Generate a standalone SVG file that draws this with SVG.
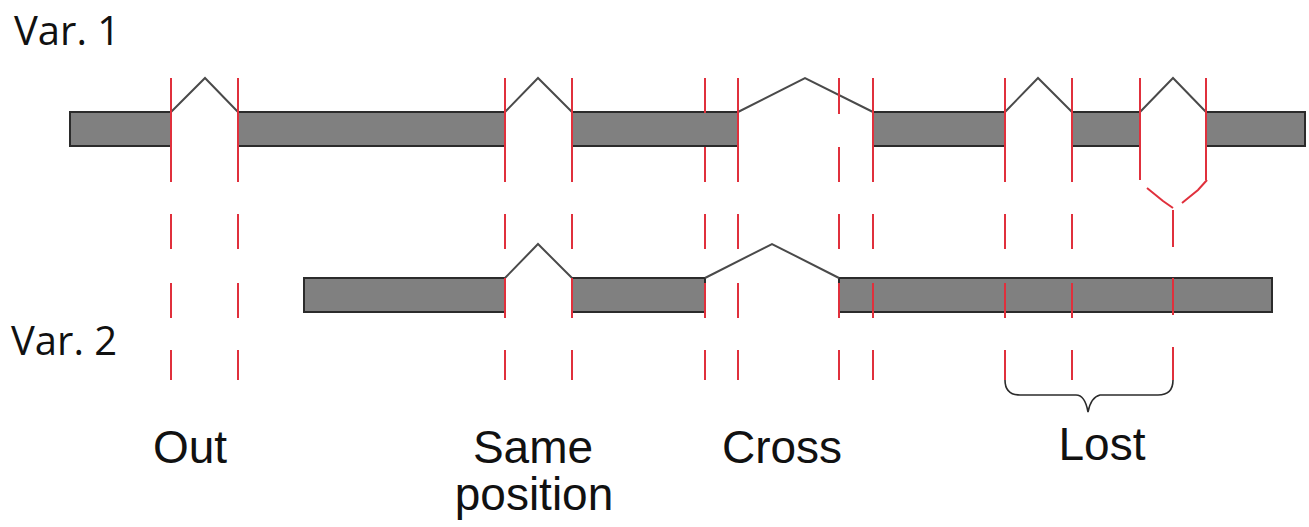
<svg xmlns="http://www.w3.org/2000/svg" width="1309" height="527" viewBox="0 0 1309 527">
  <style>
    .exon { fill: #808080; stroke: #2b2b2b; stroke-width: 2; }
    .intron { fill: none; stroke: #4a4a4a; stroke-width: 2; stroke-linejoin: miter; }
    .cut { fill: none; stroke: #e0303c; stroke-width: 2; }
    .brace { fill: none; stroke: #2b2b2b; stroke-width: 1.6; }
    .lbl { font-family: "Liberation Sans", Arial, sans-serif; font-size: 46px; fill: #111; text-anchor: middle; }
    .var { font-family: "Open Sans", "Liberation Sans", sans-serif; font-size: 40px; fill: #111; }
  </style>
  <rect width="1309" height="527" fill="#ffffff"/>

  <!-- variant 1 transcript -->
  <g id="var1">
    <rect class="exon" x="70" y="112" width="101" height="34"/>
    <rect class="exon" x="238" y="112" width="267" height="34"/>
    <rect class="exon" x="572" y="112" width="166" height="34"/>
    <rect class="exon" x="873" y="112" width="132" height="34"/>
    <rect class="exon" x="1072" y="112" width="68" height="34"/>
    <rect class="exon" x="1206" y="112" width="99" height="34"/>
    <path class="intron" d="M171,112 L205,78 L238,112 M505,112 L538,78 L572,112 M738,112 L805,78 L873,112 M1005,112 L1038,78 L1072,112 M1140,112 L1173,78 L1206,112"/>
  </g>

  <!-- variant 2 transcript -->
  <g id="var2">
    <rect class="exon" x="304" y="278" width="201" height="34"/>
    <rect class="exon" x="572" y="278" width="133" height="34"/>
    <rect class="exon" x="839" y="278" width="433" height="34"/>
    <path class="intron" d="M505,278 L538,244 L572,278 M705,278 L772,244 L839,278"/>
  </g>

  <!-- boundary guide lines -->
  <g id="guides">
    <!-- solid through the variant 1 exon edges -->
    <path class="cut" d="M171,78 V182 M238,78 V182 M505,78 V182 M572,78 V182 M738,78 V182 M873,78 V182 M1005,78 V182 M1072,78 V182 M1140,78 V180 M1206,78 V180"/>
    <path class="cut" d="M705,78 V113 M705,147 V182 M839,78 V114 M839,147 V182"/>
    <!-- dashed runs below -->
    <path class="cut" d="M171,214 V249 M171,283 V318 M171,350 V380
                         M238,214 V249 M238,283 V318 M238,350 V380
                         M505,214 V249 M505,278 V318 M505,350 V380
                         M572,214 V249 M572,278 V318 M572,350 V380
                         M705,214 V249 M705,283 V318 M705,350 V380
                         M738,214 V249 M738,283 V318 M738,350 V380
                         M839,214 V249 M839,283 V318 M839,350 V380
                         M873,214 V249 M873,283 V318 M873,350 V380
                         M1005,214 V249 M1005,283 V318 M1005,350 V380
                         M1072,214 V249 M1072,283 V318 M1072,350 V380
                         M1173,210 V247 M1173,278 V315 M1173,347 V380"/>
    <!-- merge of the two lost boundaries -->
    <path class="cut" d="M1147,188 L1163,201 L1173,208 M1207,180 L1198,190 L1182,203"/>
  </g>

  <!-- brace under the lost region -->
  <g id="brace">
    <path class="brace" d="M1005,380 Q1005,395 1020,395 L1076,395 Q1085,395 1088,412 Q1091,397 1100,395 L1158,395 Q1173,395 1173,380"/>
  </g>

  <!-- labels -->
  <g id="labels">
    <text class="var" x="14" y="45">Var. 1</text>
    <text class="var" x="11" y="355">Var. 2</text>
    <text class="lbl" x="190" y="463">Out</text>
    <text class="lbl" x="533" y="463">Same</text>
    <text class="lbl" x="534" y="510">position</text>
    <text class="lbl" x="782" y="463">Cross</text>
    <text class="lbl" x="1102" y="460">Lost</text>
  </g>
</svg>
